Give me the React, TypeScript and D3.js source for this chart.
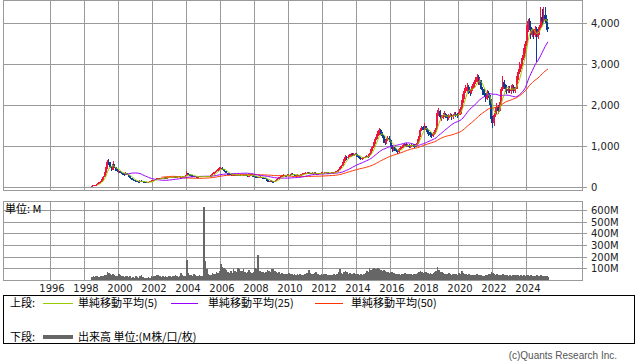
import React from "react";
import * as d3 from "d3";

// Monthly data, June 1998 .. April 2025
const START_YEAR = 1998;
const START_MONTH = 6;

const closes = [
  30, 38, 45, 60, 80, 100, 130,
  170, 250, 340, 450, 600, 560, 480, 420, 560, 480, 410, 380,
  380, 350, 330, 320, 300, 330, 300, 260, 220, 200, 170, 150,
  140, 130, 120, 150, 140, 130, 120, 110, 100, 120, 140, 150,
  160, 170, 190, 200, 210, 200, 210, 220, 230, 220, 230, 240,
  240, 230, 240, 250, 240, 250, 260, 250, 240, 250, 260, 270,
  340, 310, 300, 280, 270, 260, 250, 240, 250, 260, 250, 260,
  260, 250, 260, 250, 260, 280, 320, 340, 370, 390, 420, 460,
  470, 430, 400, 380, 340, 320, 310, 300, 290, 300, 290, 280,
  290, 280, 290, 280, 290, 300, 280, 270, 280, 290, 280, 270,
  250, 240, 230, 240, 250, 230, 220, 210, 190, 150, 140, 150,
  130, 120, 140, 170, 200, 230, 250, 280, 290, 280, 270, 290,
  300, 290, 320, 310, 290, 280, 290, 280, 290, 300, 320, 330,
  340, 350, 330, 340, 330, 340, 350, 320, 310, 320, 330, 340,
  340, 350, 360, 350, 340, 330, 340, 350, 360, 370, 380, 420,
  480, 520, 580, 650, 720, 700, 740, 760, 800, 780, 790, 810,
  760, 740, 710, 690, 700, 720, 740, 760, 740, 800, 900, 980,
  1070, 1180, 1250, 1310, 1380, 1300, 1250, 1150, 1080, 1150, 1200, 1150,
  1000, 920, 950, 900, 880, 850, 920, 960, 980, 1020, 1050, 1000,
  1020, 980, 1000, 1030, 1010, 990, 1050, 1150, 1250, 1400, 1460, 1400,
  1480, 1400, 1350, 1300, 1280, 1250, 1300, 1350, 1450, 1800, 1850, 1700,
  1700, 1750, 1780, 1720, 1680, 1740, 1760, 1700, 1750, 1780, 1760, 1750,
  1800, 1900, 2050, 2200, 2350, 2400, 2450, 2350, 2300, 2400, 2450, 2550,
  2600, 2680, 2550, 2600, 2400, 2300, 2250, 2150, 2300, 2250, 2100, 1650,
  1550, 1750, 1900, 1950, 1850, 2000, 2400, 2550, 2450, 2400, 2350, 2400,
  2350, 2400, 2450, 2350, 2400, 2650, 2800, 2950, 3000, 3150, 3300, 3500,
  3850, 4050, 3900, 3700, 3800, 3700, 3850, 3650, 3800, 3900, 4150, 4050,
  4200, 4100, 3900, 3850,
];
const firstOpen = 25;

const highs = [
  33, 42, 52, 66, 88, 110, 142,
  185, 270, 370, 500, 650, 690, 600, 520, 640, 570, 500, 440,
  420, 400, 370, 350, 340, 360, 340, 310, 270, 230, 210, 180,
  160, 150, 140, 165, 160, 150, 140, 130, 120, 130, 150, 160,
  170, 180, 200, 215, 225, 220, 220, 230, 245, 240, 240, 255,
  255, 250, 255, 265, 260, 265, 275, 270, 255, 265, 275, 290,
  380, 350, 320, 310, 290, 280, 270, 260, 265, 275, 270, 275,
  275, 270, 275, 270, 275, 295, 335, 360, 390, 410, 440, 480,
  500, 480, 440, 410, 390, 350, 335, 320, 310, 315, 310, 300,
  305, 300, 305, 300, 305, 315, 310, 290, 295, 305, 300, 290,
  280, 260, 250, 255, 265, 255, 240, 230, 220, 200, 160, 165,
  160, 140, 150, 180, 215, 245, 265, 295, 305, 300, 290, 305,
  315, 310, 335, 330, 320, 300, 305, 300, 305, 315, 335, 345,
  355, 365, 360, 355, 350, 355, 365, 355, 330, 335, 345, 355,
  355, 365, 375, 370, 360, 350, 355, 365, 375, 385, 400, 440,
  500, 545, 610, 690, 770, 760, 780, 800, 840, 830, 820, 840,
  820, 780, 760, 730, 720, 740, 760, 790, 780, 820, 930, 1010,
  1100, 1220, 1290, 1360, 1440, 1420, 1340, 1280, 1180, 1190, 1250, 1240,
  1160, 1030, 980, 970, 930, 900, 940, 990, 1010, 1050, 1080, 1070,
  1050, 1040, 1020, 1060, 1060, 1040, 1080, 1180, 1290, 1440, 1500, 1490,
  1560, 1500, 1430, 1380, 1340, 1310, 1330, 1380, 1500, 1880, 1920, 1870,
  1750, 1800, 1850, 1800, 1760, 1780, 1810, 1790, 1790, 1830, 1820, 1800,
  1840, 1950, 2120, 2260, 2420, 2480, 2540, 2500, 2400, 2460, 2520, 2600,
  2680, 2750, 2720, 2660, 2620, 2450, 2380, 2300, 2360, 2350, 2300, 2150,
  1720, 1800, 1960, 2050, 1990, 2080, 2450, 2700, 2620, 2520, 2480, 2470,
  2460, 2480, 2520, 2480, 2450, 2700, 2880, 3050, 3080, 3220, 3380, 3560,
  3950, 4100, 4120, 3950, 3880, 3860, 3920, 3900, 3850, 3960, 4400, 4350,
  4400, 4380, 4200, 4000,
];

const lows = [
  24, 28, 35, 42, 56, 76, 96,
  125, 165, 240, 330, 440, 540, 460, 400, 410, 460, 400, 360,
  350, 330, 310, 290, 280, 290, 290, 250, 210, 180, 160, 140,
  130, 120, 110, 115, 130, 120, 110, 100, 90, 95, 115, 135,
  145, 155, 165, 180, 195, 190, 195, 200, 215, 210, 215, 225,
  225, 220, 220, 230, 230, 235, 240, 240, 230, 235, 245, 250,
  265, 300, 280, 270, 255, 250, 240, 225, 230, 240, 240, 245,
  245, 240, 240, 235, 245, 250, 275, 310, 330, 355, 380, 410,
  440, 420, 390, 370, 330, 300, 295, 285, 275, 280, 275, 265,
  270, 270, 270, 265, 275, 280, 270, 255, 260, 270, 265, 255,
  240, 225, 215, 220, 235, 220, 210, 195, 170, 130, 120, 130,
  120, 110, 115, 135, 165, 190, 220, 240, 265, 270, 260, 265,
  280, 275, 285, 300, 280, 270, 270, 265, 275, 285, 295, 315,
  320, 330, 310, 320, 320, 320, 330, 310, 295, 300, 310, 320,
  325, 330, 340, 335, 325, 315, 320, 330, 340, 350, 360, 375,
  410, 465, 505, 560, 630, 660, 680, 720, 740, 750, 760, 770,
  740, 710, 680, 660, 670, 690, 710, 730, 710, 720, 790, 880,
  960, 1050, 1150, 1220, 1280, 1260, 1200, 1080, 1020, 1060, 1120, 1100,
  980, 860, 880, 870, 850, 800, 830, 900, 940, 960, 990, 970,
  980, 960, 950, 970, 980, 960, 970, 1030, 1130, 1230, 1360, 1380,
  1380, 1350, 1300, 1250, 1230, 1200, 1220, 1280, 1330, 1420, 1740, 1650,
  1620, 1660, 1710, 1680, 1600, 1640, 1700, 1640, 1660, 1720, 1710, 1690,
  1720, 1760, 1780, 2000, 2150, 2300, 2320, 2280, 2220, 2260, 2350, 2420,
  2520, 2560, 2500, 2500, 2360, 2250, 2200, 2080, 2120, 2180, 2000, 1550,
  1450, 1500, 1700, 1850, 1780, 1820, 1980, 2350, 2400, 2320, 2280, 2300,
  2300, 2280, 2350, 2300, 2300, 2380, 2600, 2750, 2880, 2950, 3100, 3250,
  3450, 3780, 3820, 3600, 3650, 3600, 3650, 3050, 3600, 3700, 3850, 3950,
  3980, 4000, 3820, 3780,
];

// volume in millions
const volumes = [
  25, 30, 28, 35, 30, 25, 30,
  35, 30, 40, 45, 70, 60, 50, 45, 55, 40, 35, 30,
  50, 45, 35, 30, 25, 30, 35, 25, 30, 20, 25, 20,
  30, 25, 20, 35, 45, 25, 20, 15, 20, 25, 20, 30,
  25, 30, 35, 45, 40, 30, 25, 30, 25, 30, 25, 30,
  30, 25, 30, 35, 40, 30, 25, 35, 60, 40, 35, 30,
  170, 60, 45, 40, 35, 55, 45, 35, 30, 40, 35, 30,
  620, 160, 90, 50, 40, 45, 60, 50, 55, 70, 60, 80,
  140, 110, 100, 95, 85, 70, 60, 75, 60, 95, 80, 70,
  100, 90, 75, 80, 95, 70, 60, 70, 85, 70, 60, 65,
  100, 90, 215, 75, 80, 70, 65, 60, 70, 85, 75, 65,
  90, 95, 80, 70, 60, 65, 55, 60, 55, 50, 55, 50,
  60, 55, 50, 45, 55, 45, 50, 45, 50, 40, 45, 50,
  55, 60, 85, 60, 50, 55, 60, 65, 55, 50, 45, 50,
  45, 50, 55, 45, 40, 45, 40, 45, 50, 45, 55, 70,
  90, 60, 55, 65, 80, 70, 55, 60, 55, 50, 60, 55,
  55, 50, 45, 50, 45, 55, 60, 75, 70, 100, 85, 95,
  100, 90, 95, 100, 90, 85, 80, 85, 75, 70, 65, 60,
  65, 70, 60, 55, 50, 55, 50, 45, 55, 50, 60, 55,
  50, 55, 50, 45, 50, 55, 50, 60, 70, 75, 65, 60,
  70, 65, 60, 55, 60, 55, 60, 65, 75, 110, 85, 70,
  65, 60, 55, 50, 55, 60, 50, 45, 50, 55, 50, 45,
  60, 55, 75, 60, 55, 50, 45, 50, 45, 40, 45, 40,
  45, 50, 40, 45, 40, 35, 35, 40, 45, 50, 55, 70,
  60, 55, 45, 50, 45, 40, 45, 50, 40, 45, 40, 35,
  40, 35, 40, 45, 40, 45, 40, 35, 40, 35, 40, 35,
  45, 40, 35, 40, 35, 30, 35, 45, 35, 30, 40, 35,
  35, 30, 30, 25,
];

const yearTicks = [1996, 1998, 2000, 2002, 2004, 2006, 2008, 2010, 2012, 2014, 2016, 2018, 2020, 2022, 2024];
const priceTicks = [0, 1000, 2000, 3000, 4000];
const volumeTicks = [100, 200, 300, 400, 500, 600];
const maPeriods = [5, 25, 50];
const maLabels = ["単純移動平均(5)", "単純移動平均(25)", "単純移動平均(50)"];

const C_UP = "#f0143c";
const C_DOWN = "#0a3c96";
const C_MA = ["#99cc00", "#9900ff", "#ff3300"];
const C_GRID = "#9a9a9a";
const C_VOL = "#666666";
const AXIS_FONT = "DejaVu Sans, Verdana, sans-serif";
const JP_FONT = "'Noto Sans CJK JP', sans-serif";

function movingAverage(vals: number[], n: number): (number | null)[] {
  return vals.map((_, i) => {
    if (i < n - 1) return null;
    return d3.mean(vals.slice(i - n + 1, i + 1)) as number;
  });
}

export default function App() {
  const W = 638;
  const H = 362;
  const L = 3, R = 582;
  const P_TOP = 0, P_BOT = 190;
  const V_TOP = 201, V_BOT = 280;

  const x = d3.scaleLinear().domain([1996, 2024]).range([50, 526]);
  const yP = d3.scaleLinear().domain([0, 4000]).range([187, 23]);
  const yV = d3.scaleLinear().domain([0, 600]).range([280, 209.8]);

  const t = (i: number) => START_YEAR + (START_MONTH - 1 + i + 0.5) / 12;
  const tEdge = (i: number) => START_YEAR + (START_MONTH - 1 + i) / 12;

  const candles = closes.map((c, i) => {
    const o = i === 0 ? firstOpen : closes[i - 1];
    return { o, c, h: Math.max(highs[i], o, c), l: Math.min(lows[i], o, c), t: t(i) };
  });

  const mas = maPeriods.map((n) => movingAverage(closes, n));
  const lineGen = d3
    .line<number | null>()
    .defined((d) => d !== null)
    .x((_, i) => x(t(i)))
    .y((d) => yP(d as number));

  return (
    <svg width={W} height={H} style={{ display: "block", position: "absolute", left: 0, top: 0, background: "#fff" }}>
      {/* upper panel grid */}
      <g shapeRendering="crispEdges" stroke={C_GRID} strokeWidth={1}>
        {yearTicks.map((yr) => (
          <line key={"vu" + yr} x1={Math.round(x(yr)) + 0.5} x2={Math.round(x(yr)) + 0.5} y1={P_TOP} y2={P_BOT} />
        ))}
        {priceTicks.map((v) => (
          <line key={"hp" + v} x1={L} x2={R + 5} y1={Math.round(yP(v)) + 0.5} y2={Math.round(yP(v)) + 0.5} />
        ))}
        <rect x={L + 0.5} y={P_TOP + 0.5} width={R - L} height={P_BOT - P_TOP} fill="none" />
      </g>
      {priceTicks.map((v) => (
        <text key={"tp" + v} x={591} y={yP(v) + 4} fontSize={10} fontFamily={AXIS_FONT} fill="#222">
          {d3.format(",")(v)}
        </text>
      ))}

      {/* candles */}
      <g shapeRendering="crispEdges">
        {candles.map((d, i) => {
          const xc = x(d.t);
          const col = d.c >= d.o ? C_UP : C_DOWN;
          const yt = yP(Math.max(d.o, d.c));
          const yb = yP(Math.min(d.o, d.c));
          return (
            <g key={"c" + i}>
              <line x1={Math.floor(xc) + 0.5} x2={Math.floor(xc) + 0.5} y1={yP(d.h)} y2={yP(d.l)} stroke={col} strokeWidth={1} />
              <rect x={Math.floor(xc - 0.5)} y={yt} width={2} height={Math.max(1, yb - yt)} fill={col} />
            </g>
          );
        })}
      </g>

      {/* moving averages */}
      {[2, 1, 0].map((k) => (
        <path key={"ma" + k} d={lineGen(mas[k]) || ""} fill="none" stroke={C_MA[k]} strokeWidth={1} />
      ))}

      {/* lower panel */}
      <g shapeRendering="crispEdges" stroke={C_GRID} strokeWidth={1}>
        {yearTicks.map((yr) => (
          <line key={"vl" + yr} x1={Math.round(x(yr)) + 0.5} x2={Math.round(x(yr)) + 0.5} y1={V_TOP} y2={V_BOT} />
        ))}
        {volumeTicks.map((v) => (
          <line key={"hv" + v} x1={L} x2={R + 5} y1={Math.round(yV(v)) + 0.5} y2={Math.round(yV(v)) + 0.5} />
        ))}
      </g>
      <g shapeRendering="crispEdges">
        {volumes.map((v, i) => {
          const x0 = x(tEdge(i));
          const x1 = x(tEdge(i + 1));
          return <rect key={"v" + i} x={x0} y={yV(v)} width={x1 - x0 + 0.3} height={yV(0) - yV(v)} fill={C_VOL} />;
        })}
      </g>
      <rect x={L + 0.5} y={V_TOP + 0.5} width={R - L} height={V_BOT - V_TOP} fill="none" stroke={C_GRID} shapeRendering="crispEdges" />
      {volumeTicks.map((v) => (
        <text key={"tv" + v} x={591} y={yV(v) + 4} fontSize={10} fontFamily={AXIS_FONT} fill="#222">
          {v + "M"}
        </text>
      ))}
      <text x={5} y={213} fontSize={11} fontFamily={JP_FONT} fill="#000">
        単位: M
      </text>

      {/* year labels */}
      {yearTicks.map((yr) => (
        <text key={"ty" + yr} x={x(yr) + 2} y={292} fontSize={10} fontFamily={AXIS_FONT} fill="#222" textAnchor="middle">
          {yr}
        </text>
      ))}

      {/* legend */}
      <rect x={3.5} y={295.5} width={631} height={48} fill="none" stroke="#000" shapeRendering="crispEdges" />
      <text x={10} y={307} fontSize={11} fontFamily={JP_FONT} fill="#000">上段:</text>
      {[
        { x1: 43, x2: 73, tx: 78 },
        { x1: 171, x2: 198, tx: 208 },
        { x1: 315, x2: 343, tx: 351 },
      ].map((p, k) => (
        <g key={"lg" + k}>
          <line x1={p.x1} x2={p.x2} y1={303.5} y2={303.5} stroke={C_MA[k]} strokeWidth={1} shapeRendering="crispEdges" />
          <text x={p.tx} y={307} fontSize={11} fontFamily={JP_FONT} fill="#000">{maLabels[k]}</text>
        </g>
      ))}
      <text x={10} y={341} fontSize={11} fontFamily={JP_FONT} fill="#000">下段:</text>
      <line x1={43} x2={73} y1={337} y2={337} stroke={C_VOL} strokeWidth={4} shapeRendering="crispEdges" />
      <text x={78} y={341} fontSize={11} fontFamily={JP_FONT} fill="#000">出来高 単位:(M株/口/枚)</text>

      <text x={617} y={359} fontSize={10} fontFamily="'Liberation Sans', Arial, sans-serif" fill="#555" textAnchor="end">
        (c)Quants Research Inc.
      </text>
    </svg>
  );
}
